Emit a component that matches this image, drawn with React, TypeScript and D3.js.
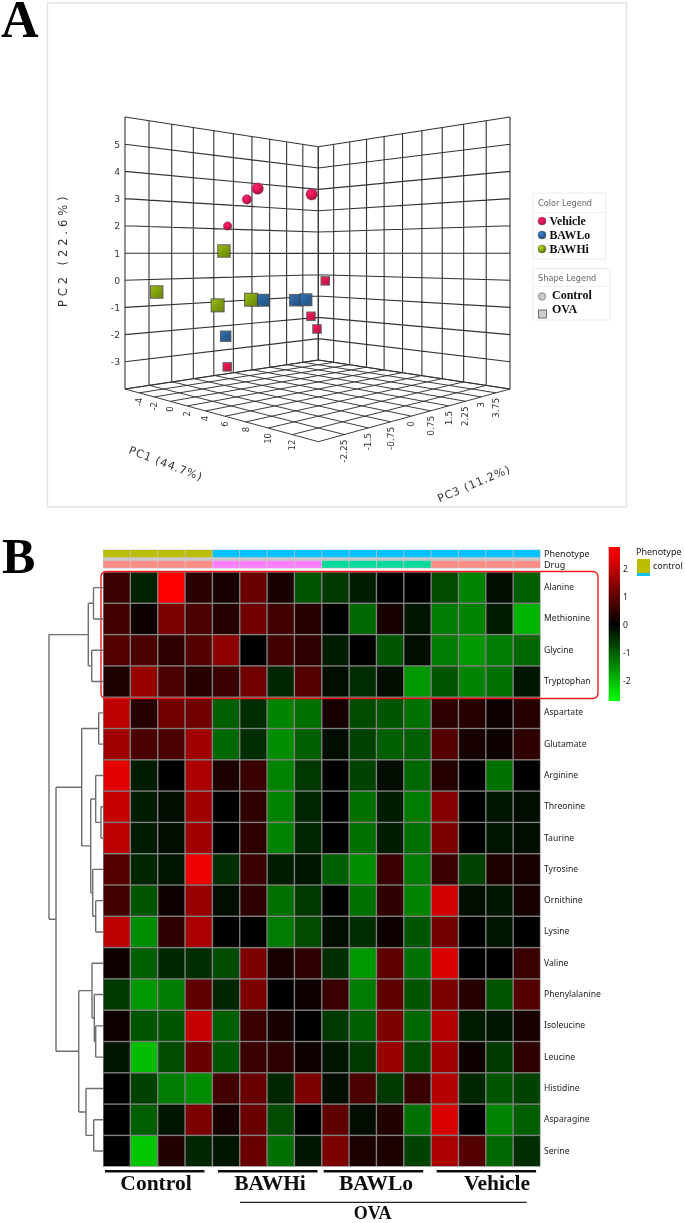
import React from "react";
import * as d3 from "d3";

// ---------- Panel A data: scores ----------
const groups = ["Vehicle", "BAWLo", "BAWHi"];
const groupColors = ["#d9164f", "#2a6098", "#7f9e0c"];
const shapesLegend = ["Control", "OVA"];
const pc2Ticks = [-3, -2, -1, 0, 1, 2, 3, 4, 5];
const pc1Ticks = [-4, -2, 0, 2, 4, 6, 8, 10, 12];
const pc3Ticks = [-2.25, -1.5, -0.75, 0, 0.75, 1.5, 2.25, 3, 3.75];
const pc2Grid = [-4, -3, -2, -1, 0, 1, 2, 3, 4, 5, 6];
const pc1Grid = [-6, -4, -2, 0, 2, 4, 6, 8, 10, 12, 14];
const pc3Grid = [-3, -2.25, -1.5, -0.75, 0, 0.75, 1.5, 2.25, 3, 3.75, 4.5];

const pointGroup = ["Vehicle","Vehicle","Vehicle","Vehicle","BAWLo","BAWLo","BAWLo","BAWLo","Vehicle","Vehicle","Vehicle","Vehicle","BAWHi","BAWHi","BAWHi","BAWHi"];
const pointShape = ["Control","Control","Control","Control","OVA","OVA","OVA","OVA","OVA","OVA","OVA","OVA","OVA","OVA","OVA","OVA"];
const pointPC1 = [-6,-6,-6,-6,-6,-6,-6,-6,-5.08,-6,-6,-6,-6,-6,-6,-6];
const pointPC2 = [3.79,3.29,2.13,3.74,-1.045,-1.13,-1.14,-2.44,-0.28,-1.92,-2.54,-3.72,1.09,-0.485,-1.14,-0.99];
const pointPC3 = [1.737,1.294,0.526,4.176,1.974,3.399,3.899,0.45,4.5,4.142,4.436,0.51,0.384,-2.001,0.144,1.464];
const pointDepth = [0.5,0.17,0,0.5,0.75,0.67,0.75,0.5,0.17,0.17,0.17,0.17,0.83,0.83,0.92,0.92];

// ---------- Panel B data ----------
const metabolites = ["Alanine","Methionine","Glycine","Tryptophan","Aspartate","Glutamate","Arginine","Threonine","Taurine","Tyrosine","Ornithine","Lysine","Valine","Phenylalanine","Isoleucine","Leucine","Histidine","Asparagine","Serine"];
const samples = d3.range(16).map(String);
const phenotypeBar = [0,0,0,0,1,1,1,1,1,1,1,1,1,1,1,1];
const drugBar = [0,0,0,0,1,1,1,1,2,2,2,2,0,0,0,0];
const phenotypeColors = ["#bdbd00", "#00c4ff"];
const drugColors = ["#ff8c85", "#ff80ff", "#00d99a"];
const colorTicks = [2, 1, 0, -1, -2];

const heat: number[][] = [
  [0.6,-0.35,2.7,0.45,0.2,1.1,0.2,-0.9,-0.6,-0.3,-0.05,0,-0.8,-1.4,-0.1,-1.0],
  [0.7,0.15,1.3,0.8,0.4,1.2,0.7,0.4,0,-1.1,0.2,-0.2,-1.3,-1.4,-0.3,-1.9],
  [0.9,0.8,0.5,0.9,1.5,0.05,0.7,0.5,-0.3,0,-0.9,-0.15,-1.3,-1.6,-1.3,-1.1],
  [0.3,1.6,0.8,0.4,0.6,1.2,-0.4,0.9,-0.15,-0.5,-0.1,-1.6,-0.9,-1.4,-1.2,-0.2],
  [2.0,0.4,1.2,1.2,-1.0,-0.5,-1.4,-1.2,0.2,-0.8,-0.9,-1.2,0.5,0.4,0.1,0.4],
  [1.7,0.8,0.8,1.7,-1.1,-0.5,-1.5,-1.0,-0.15,-0.7,-1.0,-1.0,0.9,0.2,0.15,0.5],
  [2.4,-0.3,0.05,1.8,0.3,0.6,-1.4,-0.6,0,-0.7,-0.1,-1.1,0.4,-0.05,-1.2,0.03],
  [2.1,-0.3,-0.1,1.7,0,0.5,-1.4,-0.4,0,-1.2,-0.3,-1.3,1.4,0,-0.2,-0.1],
  [2.0,-0.3,-0.1,1.7,0,0.5,-1.4,-0.4,0,-1.2,-0.3,-1.2,1.3,0,-0.2,-0.1],
  [0.9,-0.4,-0.2,2.5,-0.5,0.6,-0.3,-0.2,-1.0,-1.5,0.6,-1.3,0.6,-0.7,0.3,0.2],
  [0.7,-0.9,0.1,1.6,-0.1,0.5,-1.2,-0.6,-0.05,-1.2,0.5,-1.4,2.2,-0.1,-0.2,0.2],
  [2.0,-1.5,0.5,1.8,0,0,-1.3,-0.8,-0.15,-0.5,0.15,-0.9,1.2,0,-0.2,-0.05],
  [0.1,-1.0,-0.4,-0.5,-0.8,1.3,0.25,0.5,-0.5,-1.6,1.0,-1.2,2.3,0,0.05,0.6],
  [-0.6,-1.6,-1.3,1.0,-0.4,1.3,0.02,0.15,0.6,-1.3,1.0,-0.9,1.3,0.4,-0.9,0.9],
  [0.15,-0.9,-0.9,2.1,-1.0,0.6,0.2,0.02,-0.6,-1.0,1.3,-1.1,1.9,-0.3,-0.2,0.25],
  [-0.2,-2.0,-0.8,1.1,-0.9,0.6,0.5,0.1,-0.2,-0.6,1.6,-0.8,1.7,0.1,-0.6,0.5],
  [0,-0.7,-1.3,-1.5,0.7,1.1,-0.4,1.3,-0.15,0.8,-0.6,0.6,1.9,-0.4,-0.9,-0.7],
  [0,-1.0,-0.2,1.3,0.2,1.1,-0.8,0,1.0,-0.15,0.35,-1.2,2.3,0,-1.4,-1.0],
  [0,-2.1,0.35,-0.4,-0.2,1.1,-1.2,-0.2,1.3,0.3,0.3,-0.7,1.8,0.9,-1.1,-0.5],
];

type Den = { h: number; children?: Den[]; name?: string };
const leaf = (name: string): Den => ({ h: 0, name });
const dendrogram: Den = { h: 54, children: [
  { h: 14.7, children: [
    { h: 9.5, children: [leaf("Alanine"), leaf("Methionine")] },
    { h: 11.3, children: [leaf("Glycine"), leaf("Tryptophan")] },
  ]},
  { h: 47, children: [
    { h: 21.3, children: [
      { h: 4.3, children: [leaf("Aspartate"), leaf("Glutamate")] },
      { h: 12.3, children: [
        { h: 7.3, children: [leaf("Arginine"), { h: 2, children: [leaf("Threonine"), leaf("Taurine")] }] },
        { h: 10.3, children: [leaf("Tyrosine"), { h: 7.3, children: [leaf("Ornithine"), leaf("Lysine")] }] },
      ]},
    ]},
    { h: 24.3, children: [
      { h: 11, children: [leaf("Valine"), { h: 8.7, children: [leaf("Phenylalanine"), { h: 7.3, children: [leaf("Isoleucine"), leaf("Leucine")] }] }] },
      { h: 17, children: [leaf("Histidine"), { h: 9.3, children: [leaf("Asparagine"), leaf("Serine")] }] },
    ]},
  ]},
]};

const bottomLabels = ["Control", "BAWHi", "BAWLo", "Vehicle"];

// ---------- helpers ----------
type P = [number, number];
function quad(p00: P, p10: P, p11: P, p01: P) {
  const [x0, y0] = p00, [x1, y1] = p10, [x2, y2] = p11, [x3, y3] = p01;
  const dx1 = x1 - x2, dx2 = x3 - x2, sx = x0 - x1 + x2 - x3;
  const dy1 = y1 - y2, dy2 = y3 - y2, sy = y0 - y1 + y2 - y3;
  const den = dx1 * dy2 - dx2 * dy1;
  const g = (sx * dy2 - dx2 * sy) / den, h = (dx1 * sy - sx * dy1) / den;
  const a = x1 - x0 + g * x1, b = x3 - x0 + h * x3;
  const d = y1 - y0 + g * y1, e = y3 - y0 + h * y3;
  return (u: number, v: number): P => {
    const w = g * u + h * v + 1;
    return [(a * u + b * v + x0) / w, (d * u + e * v + y0) / w];
  };
}
const L: P = [125, 389], LT: P = [125, 117], B: P = [318.3, 360], BT: P = [318.3, 146.7];
const R: P = [510, 389], RT: P = [510, 117], F: P = [318.3, 441.7];
const leftWall = quad(L, B, BT, LT);
const rightWall = quad(B, R, RT, BT);
const floor = quad(L, F, R, B);
const uPC1 = d3.scaleLinear().domain([-6, 14]).range([0, 1]);
const uPC3 = d3.scaleLinear().domain([-3, 4.5]).range([0, 1]);
const vPC2 = d3.scaleLinear().domain([-4, 6]).range([0, 1]);
const sizeScale = d3.scaleLinear().domain([0, 1]).range([8.5, 14.5]);
const groupColor = d3.scaleOrdinal<string, string>().domain(groups).range(groupColors);

const line = (a: P, b: P) => `M${a[0]},${a[1]}L${b[0]},${b[1]}`;
const sans = "'DejaVu Sans', sans-serif";
const serif = "'Liberation Serif', serif";
const labelFont = "'Noto Sans', sans-serif";

const xCol = d3.scaleBand<string>().domain(samples).range([103, 540.5]);
const yRow = d3.scaleBand<string>().domain(metabolites).range([572, 1166.7]);
const heatColor = d3.scaleLinear<string>().domain([-2.7, 0, 2.7]).range(["#00ff00", "#000000", "#ff0000"]).clamp(true);
const yBar = d3.scaleLinear().domain([2.79, -2.71]).range([547, 701]);
const xDen = d3.scaleLinear().domain([0, 54]).range([103, 49]);

const bottomLineX = d3.scaleOrdinal<string, number>().domain(bottomLabels).range([105, 218, 323.7, 436.6]);
const bottomTextX = d3.scaleOrdinal<string, number>().domain(bottomLabels).range([156, 270, 376, 497]);

function denPaths(n: Den): { y: number; d: string } {
  if (!n.children) return { y: yRow(n.name!)! + yRow.bandwidth() / 2, d: "" };
  const x = xDen(n.h);
  const kids = n.children.map((c) => ({ c, ...denPaths(c) }));
  const ys = kids.map((k) => k.y);
  let d = kids.map((k) => k.d).join("");
  kids.forEach((k) => { d += `M${xDen(k.c.h)},${k.y}H${x}`; });
  d += `M${x},${d3.min(ys)}V${d3.max(ys)}`;
  return { y: d3.mean(ys)!, d };
}

function Marker({ x, y, size, shape, color }: any) {
  const id = `g-${color.replace("#", "")}`;
  if (shape === "Control")
    return <circle cx={x} cy={y} r={size / 2} fill={`url(#${id})`} stroke="#555" strokeWidth={0.4} />;
  return (
    <g>
      <rect x={x - size / 2} y={y - size / 2} width={size} height={size} fill="#3a3a3a" opacity={0.8} />
      <rect x={x - size / 2 + 1} y={y - size / 2 + 1} width={size - 2} height={size - 2} fill={`url(#s${id})`} />
    </g>
  );
}

export default function App() {
  const wallV = (pts: number[], wall: any, scale: any) =>
    pts.map((t) => line(wall(scale(t), 0), wall(scale(t), 1))).join("");
  const wallH = (wall: any) =>
    pc2Grid.map((t) => line(wall(0, vPC2(t)), wall(1, vPC2(t)))).join("");
  const floorGrid =
    pc1Grid.map((t) => line(floor(uPC1(t), 0), floor(uPC1(t), 1))).join("") +
    pc3Grid.map((t) => line(floor(0, uPC3(t)), floor(1, uPC3(t)))).join("");
  const den = denPaths(dendrogram);
  const pts = pointPC2.map((pc2, i) => {
    const p = pointPC1[i] === -6
      ? leftWall(uPC3(pointPC3[i]), vPC2(pc2))
      : rightWall(uPC1(pointPC1[i]), vPC2(pc2));
    return { p, i };
  });
  const gridStroke = "#333333";
  return (
    <svg width={685} height={1223} viewBox="0 0 685 1223" style={{ position: "absolute", left: 0, top: 0, background: "#fff" }}>
      <defs>
        <filter id="soft" x="0" y="0" width="100%" height="100%"><feGaussianBlur stdDeviation="0.4" /></filter>
        {groupColors.map((c) => (
          <radialGradient key={c} id={`g-${c.replace("#", "")}`} cx="38%" cy="32%" r="75%">
            <stop offset="0%" stopColor={d3.rgb(c).brighter(1).formatHex()} />
            <stop offset="55%" stopColor={c} />
            <stop offset="100%" stopColor={d3.rgb(c).darker(1.2).formatHex()} />
          </radialGradient>
        ))}
        {groupColors.map((c) => (
          <linearGradient key={c} id={`sg-${c.replace("#", "")}`} x1="0" y1="0" x2="1" y2="1">
            <stop offset="0%" stopColor={d3.rgb(c).brighter(0.5).formatHex()} />
            <stop offset="50%" stopColor={c} />
            <stop offset="100%" stopColor={d3.rgb(c).darker(0.5).formatHex()} />
          </linearGradient>
        ))}
        <linearGradient id="ramp" x1="0" y1="0" x2="0" y2="1">
          {d3.range(0, 1.001, 0.1).map((t) => {
            const v = yBar.invert(547 + 154 * t);
            return <stop key={t} offset={t} stopColor={heatColor(v)} />;
          })}
        </linearGradient>
      </defs>
      <g filter="url(#soft)">
        {/* Panel A */}
        <text x={1} y={37} fontFamily={serif} fontWeight="bold" fontSize={52} fill="#000">A</text>
        <rect x={47.5} y={3} width={579} height={504} fill="none" stroke="#e4e4e4" strokeWidth={1.5} />
        <path d={wallV(pc3Grid, leftWall, uPC3) + wallH(leftWall)} fill="none" stroke={gridStroke} strokeWidth={1.1} />
        <path d={wallV(pc1Grid, rightWall, uPC1) + wallH(rightWall)} fill="none" stroke={gridStroke} strokeWidth={1.1} />
        <path d={floorGrid} fill="none" stroke={gridStroke} strokeWidth={0.95} />
        {pc2Ticks.map((t) => (
          <text key={t} x={120} y={leftWall(0, vPC2(t))[1] + 3.5} textAnchor="end" fontFamily={sans} fontSize={9.2} fill="#333">{t}</text>
        ))}
        {pc1Ticks.map((t) => {
          const [x, y] = floor(uPC1(t), 0);
          return <text key={t} transform={`translate(${x + 3},${y + 5}) rotate(-90)`} textAnchor="end" fontFamily={sans} fontSize={8.5} fill="#333">{t}</text>;
        })}
        {pc3Ticks.map((t) => {
          const [x, y] = floor(1, uPC3(t));
          return <text key={t} transform={`translate(${x + 3},${y + 5}) rotate(-90)`} textAnchor="end" fontFamily={sans} fontSize={9} fill="#333">{t}</text>;
        })}
        <text transform="translate(67,307) rotate(-90)" fontFamily={sans} fontSize={11.5} letterSpacing={3.9} fill="#333">PC2 (22.6%)</text>
        <text transform="translate(128,453) rotate(21)" fontFamily={sans} fontSize={11} letterSpacing={0.9} fill="#333">PC1 (44.7%)</text>
        <text transform="translate(439.5,502.5) rotate(-23)" fontFamily={sans} fontSize={11} letterSpacing={0.9} fill="#333">PC3 (11.2%)</text>
        {pts.map(({ p, i }) => (
          <Marker key={i} x={p[0]} y={p[1]} size={sizeScale(pointDepth[i])} shape={pointShape[i]} color={groupColor(pointGroup[i])} />
        ))}
        {/* legends */}
        <g fill="none" stroke="#eeeeee" strokeWidth={1.2}>
          <rect x={533} y={193} width={72.5} height={66} />
          <path d="M533,212.5H605.5" />
          <rect x={533} y={268.5} width={77} height={51.5} />
          <path d="M533,286.5H610" />
        </g>
        <text x={538} y={206} fontFamily={sans} fontSize={8.2} fill="#666">Color Legend</text>
        <text x={538} y={281} fontFamily={sans} fontSize={8.2} fill="#666">Shape Legend</text>
        {groups.map((g, i) => {
          const y = d3.scalePoint<string>().domain(groups).range([221, 249])(g)!;
          return (
            <g key={g}>
              <Marker x={542} y={y} size={8} shape="Control" color={groupColors[i]} />
              <text x={549.5} y={y + 3.5} fontFamily={serif} fontWeight="bold" fontSize={11.8} fill="#111">{g}</text>
            </g>
          );
        })}
        {shapesLegend.map((s, i) => {
          const y = d3.scalePoint<string>().domain(shapesLegend).range([295.5, 309.5])(s)!;
          return (
            <g key={s}>
              {i === 0
                ? <circle cx={542} cy={y + 1} r={3.7} fill="#ccc" stroke="#777" strokeWidth={0.8} />
                : <rect x={538.5} y={y + 0.5} width={8} height={8} fill="#ccc" stroke="#666" strokeWidth={0.9} />}
              <text x={552} y={y + 3} fontFamily={serif} fontWeight="bold" fontSize={12} fill="#111">{s}</text>
            </g>
          );
        })}

        {/* Panel B */}
        <text x={2} y={573} fontFamily={serif} fontWeight="bold" fontSize={50} fill="#000">B</text>
        <rect x={103} y={549.5} width={437.5} height={19} fill="#c8c8c8" />
        {samples.map((s, i) => (
          <g key={s}>
            <rect x={xCol(s)! + 0.4} y={550} width={xCol.bandwidth() - 0.8} height={7.2} fill={phenotypeColors[phenotypeBar[i]]} />
            <rect x={xCol(s)! + 0.4} y={560.8} width={xCol.bandwidth() - 0.8} height={7} fill={drugColors[drugBar[i]]} />
          </g>
        ))}
        <text x={544} y={557} fontFamily={labelFont} fontSize={9} fill="#222">Phenotype</text>
        <text x={544} y={568} fontFamily={labelFont} fontSize={9} fill="#222">Drug</text>
        <rect x={103} y={572} width={437.5} height={594.7} fill="#808080" />
        {metabolites.map((m, r) => (
          <g key={m}>
            {samples.map((s, c) => (
              <rect key={s} x={xCol(s)! + 0.7} y={yRow(m)! + 0.7} width={xCol.bandwidth() - 1.4} height={yRow.bandwidth() - 1.4} fill={heatColor(heat[r][c])} />
            ))}
            <text x={544} y={yRow(m)! + yRow.bandwidth() / 2 + 2.5} fontFamily={labelFont} fontSize={8.6} fill="#222">{m}</text>
          </g>
        ))}
        <rect x={101} y={571.5} width={497} height={127} rx={5} fill="none" stroke="#f01818" strokeWidth={1.4} />
        <path d={den.d} fill="none" stroke="#6e6e6e" strokeWidth={1.4} />
        <rect x={608.7} y={547} width={11.3} height={154} fill="url(#ramp)" />
        {colorTicks.map((t) => (
          <text key={t} x={623} y={yBar(t) + 3} fontFamily={labelFont} fontSize={8.6} fill="#222">{t}</text>
        ))}
        <text x={636} y={555} fontFamily={labelFont} fontSize={9} fill="#222">Phenotype</text>
        <rect x={637} y={559} width={13} height={14} fill={phenotypeColors[0]} />
        <rect x={637} y={573} width={13} height={3} fill={phenotypeColors[1]} />
        <text x={653} y={569} fontFamily={labelFont} fontSize={9} fill="#222">control</text>
        {bottomLabels.map((g) => (
          <g key={g}>
            <path d={`M${bottomLineX(g)},1171.2h99.5`} stroke="#111" strokeWidth={2.6} />
            <text x={bottomTextX(g)} y={1190} textAnchor="middle" fontFamily={serif} fontWeight="bold" fontSize={21.5} fill="#111">{g}</text>
          </g>
        ))}
        <path d="M240,1202.3H526.7" stroke="#222" strokeWidth={1.3} />
        <text x={372.7} y={1219} textAnchor="middle" fontFamily={serif} fontWeight="bold" fontSize={18} fill="#111">OVA</text>
      </g>
    </svg>
  );
}
